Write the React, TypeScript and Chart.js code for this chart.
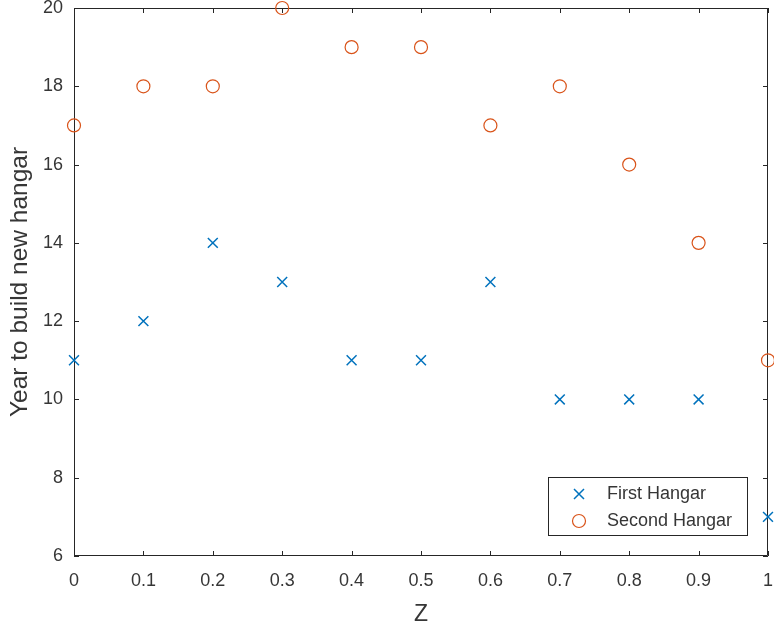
import React, { useEffect, useRef } from 'react';
import { Chart, registerables } from 'chart.js';

Chart.register(...registerables);

const zValues = [0, 0.1, 0.2, 0.3, 0.4, 0.5, 0.6, 0.7, 0.8, 0.9, 1];
const firstHangar = [11, 12, 14, 13, 11, 11, 13, 10, 10, 10, 7];
const secondHangar = [17, 18, 18, 20, 19, 19, 17, 18, 16, 14, 11];
const xTickValues = [0, 0.1, 0.2, 0.3, 0.4, 0.5, 0.6, 0.7, 0.8, 0.9, 1];
const xTickLabels = ['0', '0.1', '0.2', '0.3', '0.4', '0.5', '0.6', '0.7', '0.8', '0.9', '1'];
const yTickValues = [6, 8, 10, 12, 14, 16, 18, 20];
const yTickLabels = ['6', '8', '10', '12', '14', '16', '18', '20'];
const seriesNames = ['First Hangar', 'Second Hangar'];
const xTitle = 'Z';
const yTitle = 'Year to build new hangar';

const FONT = '"Liberation Sans", Arial, Helvetica, sans-serif';
const AXIS_COLOR = '#262626';
const TEXT_COLOR = '#363636';
const BLUE = '#0072BD';
const ORANGE = '#D95319';

const zeroPad = (scale: any) => {
  scale.paddingTop = 0;
  scale.paddingBottom = 0;
  scale.paddingLeft = 0;
  scale.paddingRight = 0;
};

const boxPlugin = {
  id: 'matlabBox',
  beforeDatasetsDraw(chart: any) {
    const { ctx, chartArea, scales } = chart;
    const { left, right, top, bottom } = chartArea;
    ctx.save();
    ctx.strokeStyle = AXIS_COLOR;
    ctx.lineWidth = 1;
    ctx.beginPath();
    ctx.rect(Math.round(left) + 0.5, Math.round(top) + 0.5, Math.round(right - left) - 1, Math.round(bottom - top) - 1);
    ctx.stroke();
    const tl = 5;
    ctx.beginPath();
    for (const v of xTickValues) {
      const px = Math.round(scales.x.getPixelForValue(v)) + 0.5;
      ctx.moveTo(px, bottom);
      ctx.lineTo(px, bottom - tl);
      ctx.moveTo(px, top);
      ctx.lineTo(px, top + tl);
    }
    for (const v of yTickValues) {
      const py = Math.round(scales.y.getPixelForValue(v)) + 0.5;
      ctx.moveTo(left, py);
      ctx.lineTo(left + tl, py);
      ctx.moveTo(right, py);
      ctx.lineTo(right - tl, py);
    }
    ctx.stroke();
    ctx.restore();
  },
  afterDatasetsDraw(chart: any) {
    const { ctx, chartArea } = chart;
    const w = 199;
    const h = 58;
    const x0 = chartArea.right - 21 - w;
    const y0 = chartArea.bottom - 21 - h;
    ctx.save();
    ctx.fillStyle = '#ffffff';
    ctx.fillRect(x0, y0, w, h);
    ctx.strokeStyle = AXIS_COLOR;
    ctx.lineWidth = 1;
    ctx.strokeRect(Math.round(x0) + 0.5, Math.round(y0) + 0.5, w, h);
    const mx = x0 + 31;
    const tx = x0 + 59;
    const rows = [y0 + 17, y0 + 44];
    ctx.strokeStyle = BLUE;
    ctx.lineWidth = 1.5;
    ctx.beginPath();
    const c = 5;
    ctx.moveTo(mx - c, rows[0] - c);
    ctx.lineTo(mx + c, rows[0] + c);
    ctx.moveTo(mx + c, rows[0] - c);
    ctx.lineTo(mx - c, rows[0] + c);
    ctx.stroke();
    ctx.strokeStyle = ORANGE;
    ctx.lineWidth = 1.2;
    ctx.beginPath();
    ctx.arc(mx, rows[1], 6.5, 0, Math.PI * 2);
    ctx.stroke();
    ctx.fillStyle = TEXT_COLOR;
    ctx.font = `18px ${FONT}`;
    ctx.textAlign = 'left';
    ctx.textBaseline = 'middle';
    const labels = chart.data.datasets.map((d: any) => d.label);
    ctx.fillText(labels[0], tx, rows[0]);
    ctx.fillText(labels[1], tx, rows[1]);
    ctx.restore();
  },
};

export default function App() {
  const canvasRef = useRef<HTMLCanvasElement | null>(null);

  useEffect(() => {
    if (!canvasRef.current) return;
    const chart = new Chart(canvasRef.current, {
      type: 'scatter',
      data: {
        datasets: [
          {
            label: seriesNames[0],
            data: zValues.map((z, i) => ({ x: z, y: firstHangar[i] })),
            pointStyle: 'crossRot',
            pointRadius: 7,
            borderColor: BLUE,
            backgroundColor: BLUE,
            borderWidth: 1.5,
            clip: false as any,
          },
          {
            label: seriesNames[1],
            data: zValues.map((z, i) => ({ x: z, y: secondHangar[i] })),
            pointStyle: 'circle',
            pointRadius: 6.5,
            borderColor: ORANGE,
            backgroundColor: 'rgba(0,0,0,0)',
            borderWidth: 1.2,
            clip: false as any,
          },
        ],
      },
      options: {
        responsive: false,
        animation: false,
        devicePixelRatio: 1,
        events: [],
        layout: { autoPadding: false, padding: { left: 0, top: 8, right: 6, bottom: 0 } },
        plugins: {
          legend: { display: false },
          tooltip: { enabled: false },
        },
        scales: {
          x: {
            type: 'linear',
            min: 0,
            max: 1,
            border: { display: false },
            grid: { display: false, drawTicks: false, tickLength: 0 },
            afterBuildTicks: (scale: any) => {
              scale.ticks = xTickValues.map((v) => ({ value: v }));
            },
            afterFit: (scale: any) => {
              scale.height = 72;
              zeroPad(scale);
            },
            ticks: {
              padding: 14,
              color: TEXT_COLOR,
              font: { family: FONT, size: 18 },
              maxRotation: 0,
              autoSkip: false,
              callback: (_v: any, i: number) => xTickLabels[i],
            },
            title: {
              display: true,
              text: xTitle,
              color: TEXT_COLOR,
              font: { family: FONT, size: 23 },
              padding: { top: 0, bottom: 0 },
            },
          },
          y: {
            type: 'linear',
            min: 6,
            max: 20,
            border: { display: false },
            grid: { display: false, drawTicks: false, tickLength: 0 },
            afterBuildTicks: (scale: any) => {
              scale.ticks = yTickValues.map((v) => ({ value: v }));
            },
            afterFit: (scale: any) => {
              scale.width = 74;
              zeroPad(scale);
            },
            ticks: {
              padding: 11,
              color: TEXT_COLOR,
              font: { family: FONT, size: 18 },
              autoSkip: false,
              callback: (_v: any, i: number) => yTickLabels[i],
            },
            title: {
              display: true,
              text: yTitle,
              color: TEXT_COLOR,
              font: { family: FONT, size: 24.5 },
              padding: { top: 6, bottom: 0 },
            },
          },
        },
      },
      plugins: [boxPlugin],
    });
    return () => chart.destroy();
  }, []);

  return (
    <div style={{ position: 'absolute', left: 0, top: 0, width: 774, height: 628, background: '#ffffff' }}>
      <canvas ref={canvasRef} width={774} height={628} style={{ display: 'block', width: 774, height: 628 }} />
    </div>
  );
}
